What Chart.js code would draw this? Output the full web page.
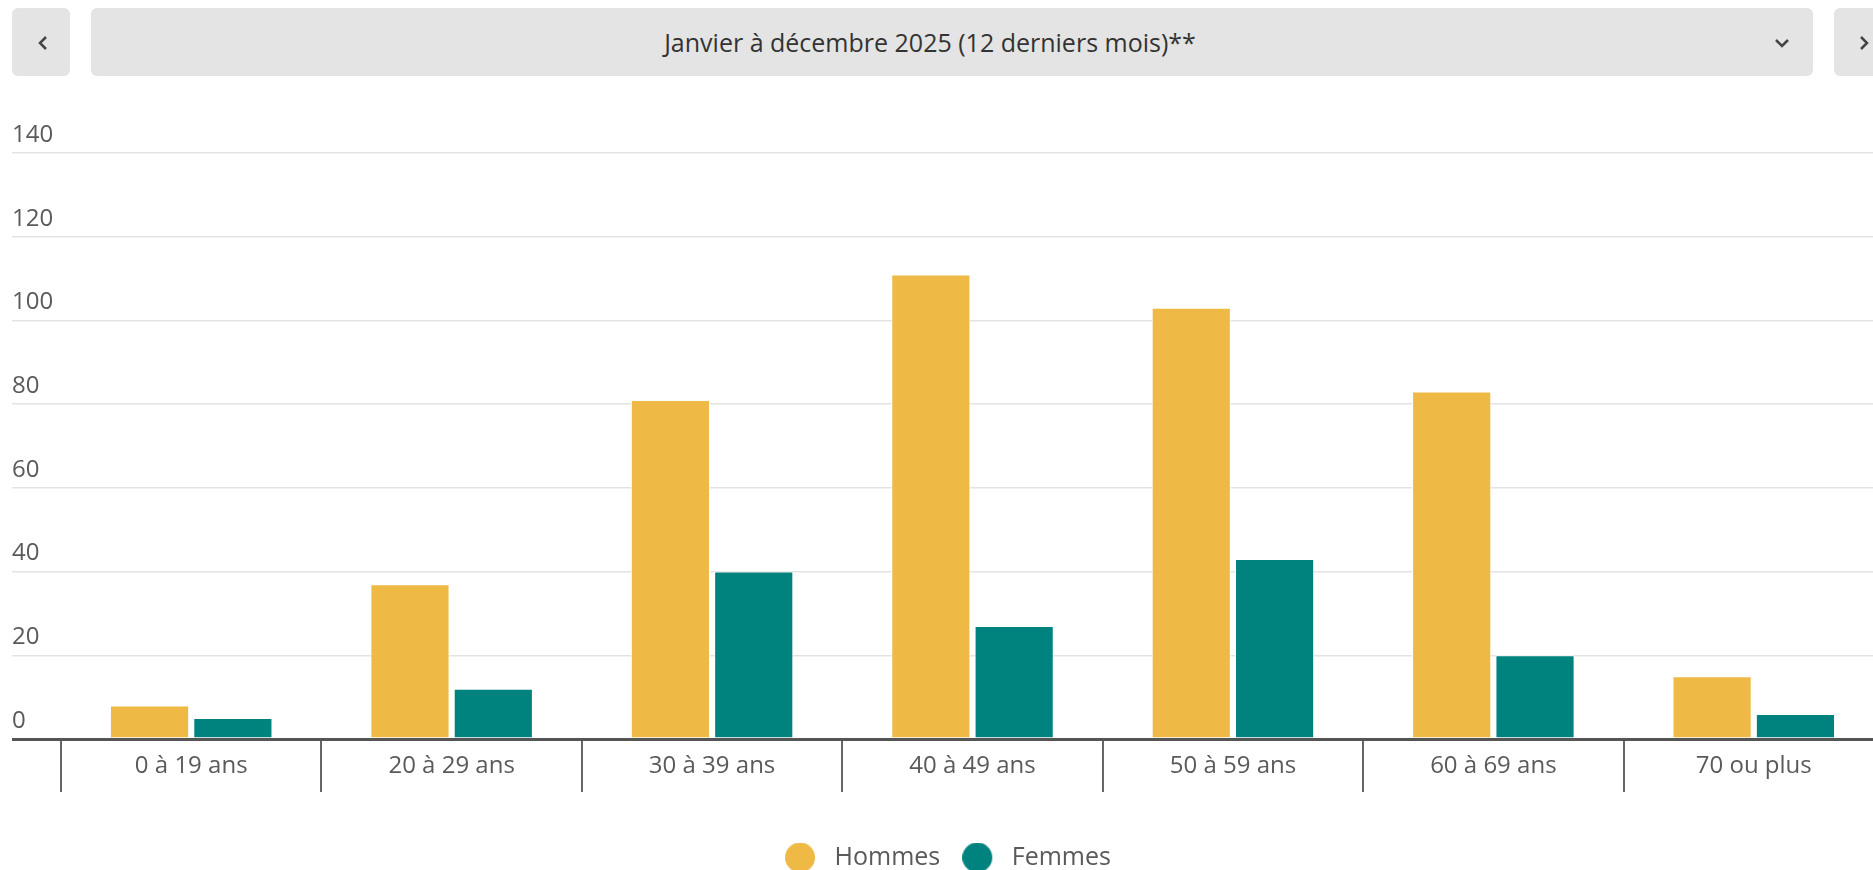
<!DOCTYPE html>
<html lang="fr">
<head>
<meta charset="utf-8">
<title>Répartition par âge et sexe</title>
<script src="https://cdn.jsdelivr.net/npm/chart.js@4.4.1/dist/chart.umd.min.js"></script>
<style>
  html, body { margin: 0; padding: 0; background: #fff; overflow: hidden; }
  body { width: 1873px; height: 870px; position: relative; font-family: "Open Sans", sans-serif; }
  .btn { position: absolute; top: 8px; height: 68px; background: #e4e4e4; border-radius: 6px; }
  #prev { left: 12px; width: 58px; }
  #period { left: 91px; width: 1722px; }
  #next { left: 1834px; width: 58px; }
  #period span { position: absolute; left: 0; width: 1678px; top: 0; line-height: 68px;
                 text-align: center; font-size: 25px; color: #333; }
  .btn svg { position: absolute; }
  #wrap { position: absolute; left: 0; top: 90px; width: 1900px; height: 790px; }
</style>
</head>
<body>
<div class="btn" id="prev">
  <svg style="left:25px;top:27px" width="12" height="16"><polyline points="9,2 3,8 9,14" fill="none" stroke="#444" stroke-width="2.5"/></svg>
</div>
<div class="btn" id="period">
  <span>Janvier à décembre 2025 (12 derniers mois)**</span>
  <svg style="left:1683px;top:29px" width="18" height="12"><polyline points="2,3 8,9 14,3" fill="none" stroke="#444" stroke-width="2.5"/></svg>
</div>
<div class="btn" id="next">
  <svg style="left:24px;top:27px" width="12" height="16"><polyline points="3,2 9,8 3,14" fill="none" stroke="#444" stroke-width="2.5"/></svg>
</div>
<div id="wrap"><canvas id="myChart"></canvas></div>

<script>
var categories = ["0 à 19 ans", "20 à 29 ans", "30 à 39 ans", "40 à 49 ans",
                  "50 à 59 ans", "60 à 69 ans", "70 ou plus"];
var hommes = [8, 37, 81, 111, 103, 83, 15];
var femmes = [5, 12, 40, 27, 43, 20, 6];
var seriesNames = ["Hommes", "Femmes"];
var seriesColors = ["#efb946", "#00837f"];
var yTicks = [0, 20, 40, 60, 80, 100, 120, 140];

var textColor = "#5a5a5a";

// round legend markers with a bit of room before the text
function makeDot(color) {
  var c = document.createElement("canvas");
  c.width = 37;
  c.height = 30;
  var g = c.getContext("2d");
  g.fillStyle = color;
  g.beginPath();
  g.arc(15, 15, 15, 0, Math.PI * 2);
  g.fill();
  return c;
}
var legendDots = seriesColors.map(makeDot);

function createChart() {
  var ctx = document.getElementById("myChart").getContext("2d");
  var chart = new Chart(ctx, {
    type: "bar",
    data: {
      labels: categories,
      datasets: [{
        label: seriesNames[0],
        data: hommes,
        backgroundColor: seriesColors[0],
        borderColor: "#ffffff",
        borderWidth: 1
      }, {
        label: seriesNames[1],
        data: femmes,
        backgroundColor: seriesColors[1],
        borderColor: "#ffffff",
        borderWidth: 1
      }]
    },
    options: {
      responsive: true,
      maintainAspectRatio: false,
      animation: false,
      categoryPercentage: 0.64,
      barPercentage: 0.95,
      layout: {
        padding: { left: 12, right: 16, top: 63, bottom: 0 }
      },
      plugins: {
        tooltip: { enabled: false },
        legend: {
          position: "bottom",
          labels: {
            usePointStyle: true,
            pointStyleWidth: 37,
            boxHeight: 21,
            padding: 22,
            color: textColor,
            font: { family: "Open Sans", size: 25 },
            generateLabels: function(chart) {
              var items = Chart.defaults.plugins.legend.labels.generateLabels(chart);
              items.forEach(function(item, i) { item.pointStyle = legendDots[i]; });
              return items;
            }
          }
        }
      },
      scales: {
        x: {
          border: { display: false },
          grid: {
            offset: true,
            drawOnChartArea: false,
            drawTicks: true,
            tickLength: 53,
            color: "#666666",
            lineWidth: 2
          },
          ticks: {
            padding: -40,
            color: textColor,
            font: { family: "Open Sans", size: 24 }
          },
          afterFit: function(scale) { scale.height = 84; }
        },
        y: {
          min: yTicks[0],
          max: yTicks[yTicks.length - 1],
          border: { display: false },
          grid: {
            drawTicks: true,
            tickLength: 49,
            color: function(c) { return c.tick && c.tick.value === 0 ? "#555555" : "#e3e3e3"; },
            lineWidth: function(c) { return c.tick && c.tick.value === 0 ? 3 : 1.5; }
          },
          ticks: {
            stepSize: 20,
            crossAlign: "far",
            labelOffset: -18,
            color: textColor,
            font: { family: "Open Sans", size: 24 }
          },
          afterBuildTicks: function(scale) {
            scale.ticks = yTicks.map(function(v) { return { value: v }; });
          },
          afterFit: function(scale) { scale.width = 49; }
        }
      }
    }
  });
  return chart;
}

createChart();
</script>
</body>
</html>
